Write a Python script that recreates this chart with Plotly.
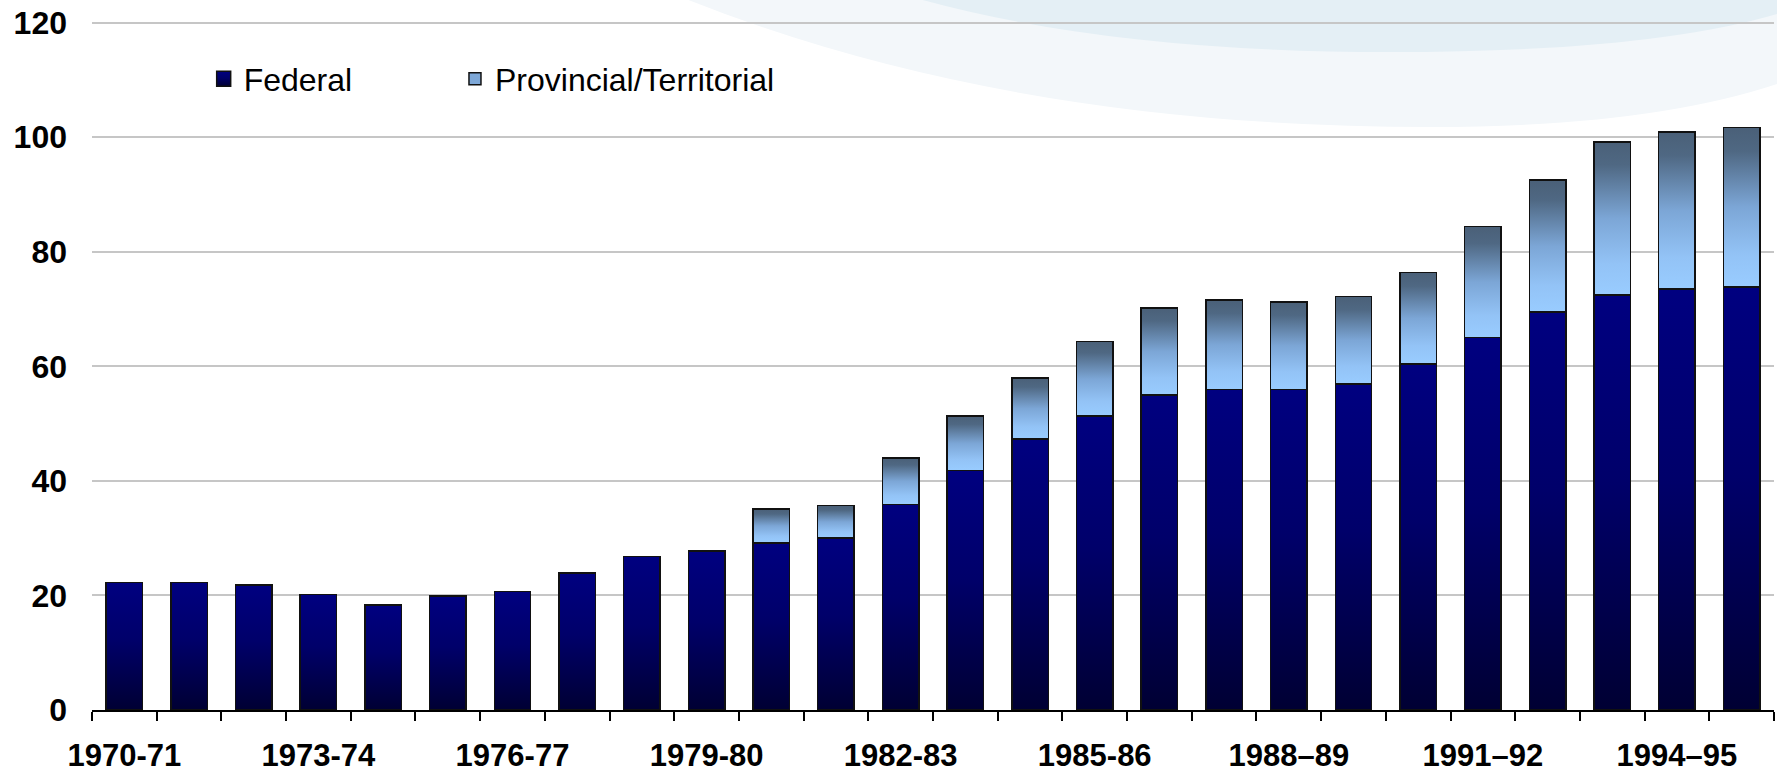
import plotly.graph_objects as go

# ---------------- data ----------------
categories = [
    "1970-71", "1971-72", "1972-73", "1973-74", "1974-75", "1975-76",
    "1976-77", "1977-78", "1978-79", "1979-80", "1980-81", "1981-82",
    "1982-83", "1983-84", "1984-85", "1985-86", "1986-87", "1987-88",
    "1988–89", "1989–90", "1990–91", "1991–92", "1992–93", "1993–94",
    "1994–95", "1995–96",
]
federal = [
    22.3, 22.3, 21.8, 20.2, 18.3, 19.9, 20.7, 23.9, 26.8, 27.8,
    29.2, 30.0, 35.9, 41.8, 47.3, 51.3, 55.0, 56.0, 56.0, 56.9,
    60.4, 65.0, 69.5, 72.5, 73.5, 73.9,
]
provincial = [
    None, None, None, None, None, None, None, None, None, None,
    5.9, 5.7, 8.1, 9.5, 10.7, 13.0, 15.2, 15.6, 15.2, 15.3,
    16.0, 19.4, 23.0, 26.7, 27.4, 27.8,
]
tick_labels = [
    "1970-71", "", "", "1973-74", "", "", "1976-77", "", "", "1979-80",
    "", "", "1982-83", "", "", "1985-86", "", "", "1988–89", "", "",
    "1991–92", "", "", "1994–95", "",
]
y_ticks = [0, 20, 40, 60, 80, 100, 120]

# ---------------- layout constants ----------------
W, H = 1777, 775
ML, MR, MT, MB = 92, 3, 21, 65
FONT = "Arial, 'Liberation Sans', sans-serif"


def px2paper(x, y):
    return (x - ML) / (W - ML - MR), (H - MB - y) / (H - MT - MB)


def path_from(points_cmds):
    out = []
    for cmd, pts in points_cmds:
        coords = []
        for (x, y) in pts:
            px, py = px2paper(x, y)
            coords.append(f"{px:.5f},{py:.5f}")
        out.append(cmd + " " + " ".join(coords))
    return " ".join(out) + " Z"


light_swoosh = path_from([
    ("M", [(676, -5)]),
    ("Q", [(1000, 127), (1430, 127)]),
    ("Q", [(1650, 127), (1780, 83)]),
    ("L", [(1780, -5)]),
])
dark_swoosh = path_from([
    ("M", [(905, -5)]),
    ("Q", [(1100, 52), (1390, 52)]),
    ("Q", [(1650, 52), (1780, 13)]),
    ("L", [(1780, -5)]),
])

fig = go.Figure()
fig.add_trace(go.Bar(
    x=categories, y=federal, name="Federal", legend="legend",
    marker=dict(color="#000066", line=dict(color="#111111", width=1.5)),
))
fig.add_trace(go.Bar(
    x=categories, y=provincial, name="Provincial/Territorial", legend="legend2",
    marker=dict(color="#7ea8d8", line=dict(color="#111111", width=1.5)),
))

legend_common = dict(
    orientation="h", xanchor="left", y=0.916, yanchor="middle",
    font=dict(size=32, family=FONT, color="black"),
    bgcolor="rgba(0,0,0,0)",
)

fig.update_layout(
    width=W, height=H,
    margin=dict(l=ML, r=MR, t=MT, b=MB, pad=0),
    barmode="stack",
    bargap=0.436,
    paper_bgcolor="white",
    plot_bgcolor="rgba(0,0,0,0)",
    font=dict(family=FONT, color="black"),
    showlegend=True,
    legend=dict(x=0.0664, **legend_common),
    legend2=dict(x=0.2158, **legend_common),
    shapes=[
        dict(type="path", path=light_swoosh, xref="paper", yref="paper",
             fillcolor="#f3f7fa", line=dict(width=0), layer="below"),
        dict(type="path", path=dark_swoosh, xref="paper", yref="paper",
             fillcolor="#e4eff5", line=dict(width=0), layer="below"),
    ],
    xaxis=dict(
        type="category", tickmode="array", tickvals=categories, ticktext=tick_labels,
        tickson="boundaries", ticks="outside", ticklen=9, tickwidth=1.5, tickcolor="black",
        showline=True, linecolor="black", linewidth=1.5, showgrid=False,
        tickfont=dict(size=31, family=FONT, color="black", weight="bold"),
        ticklabelstandoff=17, tickangle=0,
    ),
    yaxis=dict(
        range=[0, 120.3], tickmode="array", tickvals=y_ticks,
        showgrid=True, gridcolor="#c6c6c6", gridwidth=1.5,
        zeroline=False, showline=False, ticks="",
        tickfont=dict(size=32, family=FONT, color="black", weight="bold"),
        ticklabelstandoff=24,
    ),
)

post = r"""
document.body.style.margin = '0';
document.body.style.overflow = 'hidden';
var gd = document.getElementById('{plot_id}');
var NS = 'http://www.w3.org/2000/svg';
function mkGrad(defs, id, stops) {
  if (document.getElementById(id)) return;
  var g = document.createElementNS(NS, 'linearGradient');
  g.setAttribute('id', id);
  g.setAttribute('x1', '0'); g.setAttribute('y1', '0');
  g.setAttribute('x2', '0'); g.setAttribute('y2', '1');
  stops.forEach(function (s) {
    var st = document.createElementNS(NS, 'stop');
    st.setAttribute('offset', s[0]);
    st.setAttribute('stop-color', s[1]);
    g.appendChild(st);
  });
  defs.appendChild(g);
}
function applyGrad() {
  var svg = gd.querySelector('svg.main-svg');
  if (!svg) return;
  var defs = svg.querySelector('defs');
  if (!defs) { defs = document.createElementNS(NS, 'defs'); svg.insertBefore(defs, svg.firstChild); }
  mkGrad(defs, 'gradFed', [[0, '#000080'], [0.45, '#00006a'], [1, '#000033']]);
  mkGrad(defs, 'gradProv', [[0, '#4a6078'], [0.15, '#4f6883'], [0.5, '#7ca6d6'], [0.8, '#93c3f6'], [1, '#99ccff']]);
  var ids = ['gradFed', 'gradProv'];
  var traces = gd.querySelectorAll('.barlayer .trace');
  traces.forEach(function (t, i) {
    t.querySelectorAll('path').forEach(function (p) { p.style.fill = 'url(#' + ids[i] + ')'; });
  });
  var legs = gd.querySelectorAll('.legend');
  legs.forEach(function (lg, i) {
    lg.querySelectorAll('.legendpoints path').forEach(function (p) {
      p.style.fill = 'url(#' + ids[Math.min(i, 1)] + ')';
      p.setAttribute('d', 'M7,7.5H-7V-7.5H7Z');
    });
  });
}
applyGrad();
gd.on('plotly_afterplot', applyGrad);
"""

fig.write_html("out.html", post_script=post, config={"displayModeBar": False})
